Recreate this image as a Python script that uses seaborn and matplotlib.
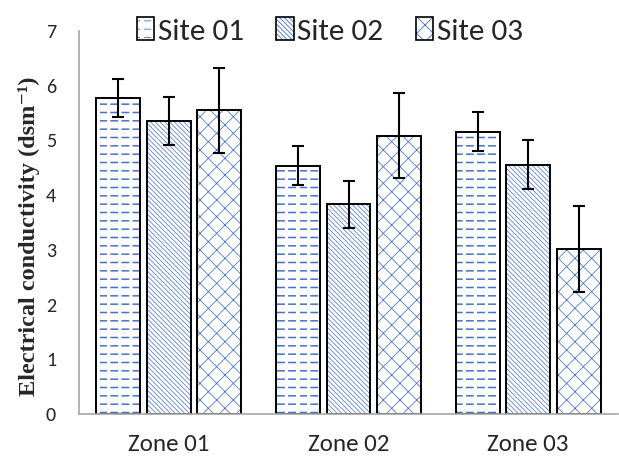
import numpy as np
import pandas as pd
import matplotlib
matplotlib.use("Agg")
import matplotlib.pyplot as plt
import matplotlib.hatch as mhatch
from matplotlib import font_manager
from matplotlib.colors import to_rgba
from matplotlib.patches import Patch
from matplotlib.path import Path
import seaborn as sns

# ---- data -------------------------------------------------------------
zones = ["Zone 01", "Zone 02", "Zone 03"]
sites = ["Site 01", "Site 02", "Site 03"]
ec_site01 = [5.77, 4.54, 5.16]
ec_site02 = [5.35, 3.83, 4.56]
ec_site03 = [5.55, 5.09, 3.01]
sd_site01 = [0.35, 0.36, 0.355]
sd_site02 = [0.44, 0.43, 0.44]
sd_site03 = [0.78, 0.78, 0.785]
y_ticks = [0, 1, 2, 3, 4, 5, 6, 7]

means = [ec_site01, ec_site02, ec_site03]
errors = [sd_site01, sd_site02, sd_site03]

df = pd.DataFrame({
    "zone": np.repeat([zones], 3, axis=0).ravel(),
    "site": np.repeat(sites, 3),
    "ec": np.concatenate(means),
})


# ---- dashed horizontal hatch used for the first series ----------------
class DashedHorizontalHatch(mhatch.HatchPatternBase):
    dashes_per_row = 9
    dash_fraction = 0.57

    def __init__(self, hatch, density):
        self.num_lines = int((hatch.count('-') + hatch.count('+')) * density)
        self.num_vertices = self.num_lines * self.dashes_per_row * 2

    def set_vertices_and_codes(self, vertices, codes):
        rows, rstep = np.linspace(0.0, 1.0, self.num_lines, False, retstep=True)
        rows += rstep / 2.0
        starts, dstep = np.linspace(0.0, 1.0, self.dashes_per_row, False, retstep=True)
        yy, xx = np.meshgrid(rows, starts, indexing="ij")
        xx = xx.ravel()
        yy = yy.ravel()
        vertices[0::2, 0] = xx
        vertices[0::2, 1] = yy
        vertices[1::2, 0] = xx + dstep * self.dash_fraction
        vertices[1::2, 1] = yy
        codes[0::2] = Path.MOVETO
        codes[1::2] = Path.LINETO


mhatch._hatch_types = [DashedHorizontalHatch if t is mhatch.HorizontalHatch else t
                       for t in mhatch._hatch_types]


def pick_font(candidates, fallback):
    available = {f.name for f in font_manager.fontManager.ttflist}
    for name in candidates:
        if name in available:
            return name
    return fallback


sns.set_style("white")
sans = pick_font(["Carlito", "Calibri", "Liberation Sans Narrow", "Lato"], "DejaVu Sans")
serif = pick_font(["Liberation Serif", "Tinos", "Times New Roman"], "DejaVu Serif")
plt.rcParams["font.family"] = [sans, "DejaVu Sans"]
plt.rcParams["hatch.linewidth"] = 0.6

HATCH_BLUE = "#4472C4"
EDGE = "black"
AXIS_GREY = "#A6A6A6"
hatches = ["--", "\\" * 7, "xx"]
hatch_widths = [1.1, 0.5, 0.55]


def style_patch(p, hatch, hlw):
    p.set_facecolor("white")
    p.set_edgecolor(EDGE)
    p.set_linewidth(1.4)
    p.set_hatch(hatch)
    if hasattr(p, "set_hatchcolor"):
        p.set_hatchcolor(HATCH_BLUE)
    else:
        p._hatch_color = to_rgba(HATCH_BLUE)
    if hasattr(p, "set_hatch_linewidth"):
        p.set_hatch_linewidth(hlw)


fig = plt.figure(figsize=(6.19, 4.59), dpi=100)
ax = fig.add_axes([79 / 619, 1 - 414 / 459, 539 / 619, 383 / 459])

sns.barplot(data=df, x="zone", y="ec", hue="site", order=zones, hue_order=sites,
            width=0.843, gap=0.13, errorbar=None, legend=False, ax=ax)

for container, hatch, hlw, err, vals in zip(ax.containers, hatches, hatch_widths,
                                            errors, means):
    xs = []
    for p in container.patches:
        style_patch(p, hatch, hlw)
        xs.append(p.get_x() + p.get_width() / 2)
    ax.errorbar(xs, vals, yerr=err, fmt="none", ecolor="black",
                elinewidth=1.5, capsize=4.2, capthick=1.5, zorder=5)

ax.set_ylim(0, 7)
ax.set_yticks(y_ticks)
ax.set_xlim(-0.5, 2.5)
ax.set_xlabel("")
ax.set_ylabel("Electrical conductivity (dsm\u207b\u00b9)",
              fontfamily=[serif, "DejaVu Serif"], fontweight="bold", fontsize=17.5)
ax.yaxis.label.set_va("center")
ax.yaxis.set_label_coords(-0.093, 0.465)

ax.tick_params(axis="y", length=0, pad=16.5, labelsize=14.5)
ax.tick_params(axis="x", length=0, pad=14.5, labelsize=18)

for side in ["top", "right"]:
    ax.spines[side].set_visible(False)
for side in ["left", "bottom"]:
    ax.spines[side].set_color(AXIS_GREY)
    ax.spines[side].set_linewidth(1.2)

handles = []
for site, hatch, hlw in zip(sites, hatches, hatch_widths):
    h = Patch(label=site)
    style_patch(h, hatch, hlw)
    h.set_linewidth(1.2)
    handles.append(h)

fig.legend(handles=handles, loc="center", bbox_to_anchor=(330 / 619, 1 - 31 / 459),
           ncol=3, frameon=False, fontsize=22.5, handlelength=0.55, handleheight=0.75,
           handletextpad=0.12, columnspacing=1.05, borderpad=0.0)

fig.savefig("out.png", dpi=100)
